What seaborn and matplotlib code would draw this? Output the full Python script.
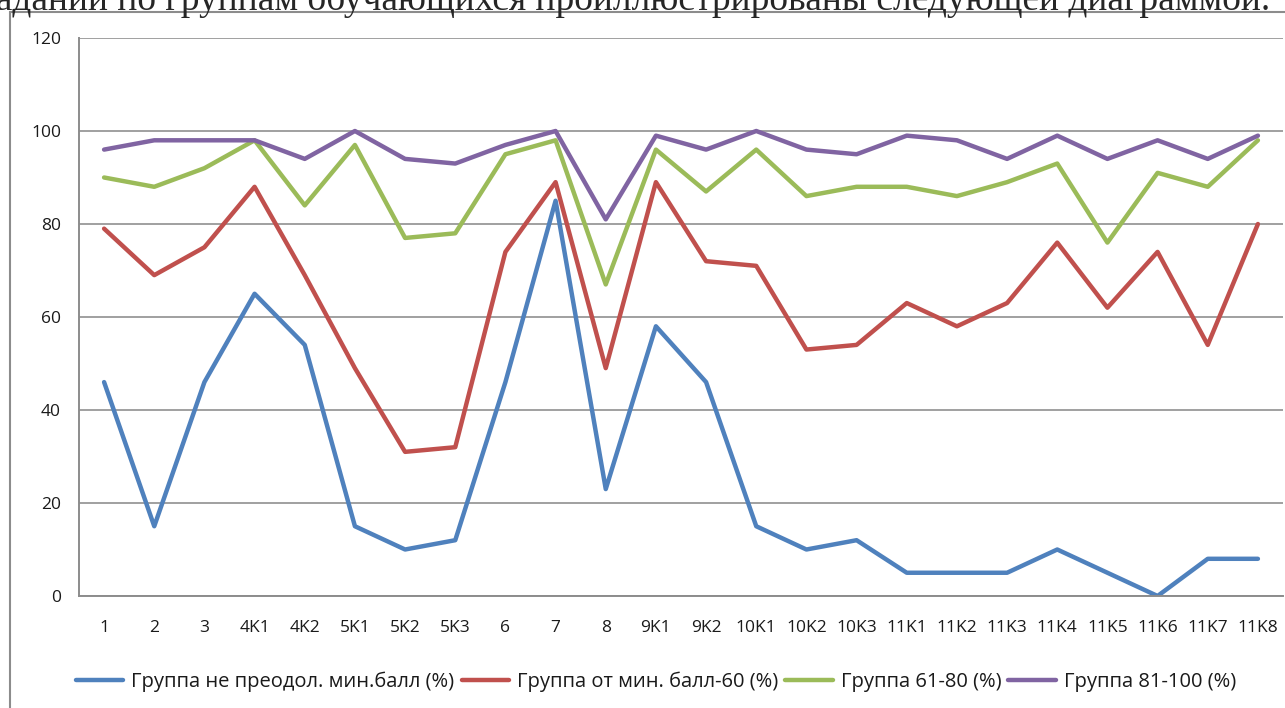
import numpy as np
import pandas as pd
import matplotlib
matplotlib.use("Agg")
import matplotlib.pyplot as plt
import seaborn as sns
from matplotlib.patches import Rectangle

categories = ["1", "2", "3", "4K1", "4K2", "5K1", "5K2", "5K3", "6", "7", "8",
              "9K1", "9K2", "10K1", "10K2", "10K3", "11K1", "11K2", "11K3",
              "11K4", "11K5", "11K6", "11K7", "11K8"]
blue = [46, 15, 46, 65, 54, 15, 10, 12, 46, 85, 23, 58, 46, 15, 10, 12, 5, 5, 5, 10, 5, 0, 8, 8]
red = [79, 69, 75, 88, 69, 49, 31, 32, 74, 89, 49, 89, 72, 71, 53, 54, 63, 58, 63, 76, 62, 74, 54, 80]
green = [90, 88, 92, 98, 84, 97, 77, 78, 95, 98, 67, 96, 87, 96, 86, 88, 88, 86, 89, 93, 76, 91, 88, 98]
purple = [96, 98, 98, 98, 94, 100, 94, 93, 97, 100, 81, 99, 96, 100, 96, 95, 99, 98, 94, 99, 94, 98, 94, 99]
series_names = ["Группа не преодол. мин.балл (%)", "Группа от мин. балл-60 (%)",
                "Группа 61-80 (%)", "Группа 81-100 (%)"]
colors = ["#4F81BD", "#C0504D", "#9BBB59", "#8064A2"]
yticks = [0, 20, 40, 60, 80, 100, 120]
header = "заданий по группам обучающихся проиллюстрированы следующей диаграммой."

sns.set_style("white")
plt.rcParams['font.family'] = ['Open Sans', 'DejaVu Sans']

rows = []
for name, vals in zip(series_names, [blue, red, green, purple]):
    for i, v in enumerate(vals):
        rows.append({"pos": i, "value": v, "series": name})
df = pd.DataFrame(rows)

fig = plt.figure(figsize=(12.85, 7.08), dpi=100)
ax = fig.add_axes([79/1285, 112/708, 1204/1285, 558/708])

sns.lineplot(data=df, x="pos", y="value", hue="series", palette=colors,
             linewidth=3.2, ax=ax, legend=True, sort=False)

ax.set_xlim(-0.5, len(categories) - 0.5)
ax.set_ylim(0, 120)
ax.set_yticks(yticks)
ax.set_yticklabels([str(t) for t in yticks], fontsize=12.5, color='#1a1a1a')
ax.set_xticks(np.arange(len(categories)))
ax.set_xticklabels(categories, fontsize=12.5, color='#1a1a1a')
ax.set_xticks(np.arange(len(categories) + 1) - 0.5, minor=True)
ax.tick_params(axis='x', which='major', length=0, pad=17)
ax.tick_params(axis='x', which='minor', length=7, width=1.3, color='#8c8c8c', direction='out')
ax.tick_params(axis='y', length=7, width=1.3, color='#8c8c8c', direction='out', pad=6)
ax.set_xlabel("")
ax.set_ylabel("")
ax.grid(axis='y', color='#a0a0a0', linewidth=1.4)
ax.set_axisbelow(True)
for s in ["top", "right"]:
    ax.spines[s].set_visible(False)
for s in ["left", "bottom"]:
    ax.spines[s].set_color('#8c8c8c')
    ax.spines[s].set_linewidth(1.4)

handles, labels = ax.get_legend_handles_labels()
ax.legend(handles, labels, loc='center', bbox_to_anchor=((656 - 79) / 1204, -0.153),
          ncol=4, frameon=False, fontsize=14.5, handlelength=2.35, handletextpad=0.4,
          columnspacing=0.35, labelcolor='#1a1a1a')

# outer chart frame (cropped on right/bottom)
fig.patches.append(Rectangle((10/1285, -0.1), 1.2, (708-12)/708 + 0.1,
                             transform=fig.transFigure, fill=False,
                             edgecolor='#8c8c8c', linewidth=1.5))

fig.text(1270/1285, 1 - 10/708, header, ha='right', va='baseline',
         fontsize=27, family=['Liberation Serif', 'DejaVu Serif'])

fig.savefig("out.png", dpi=100)
